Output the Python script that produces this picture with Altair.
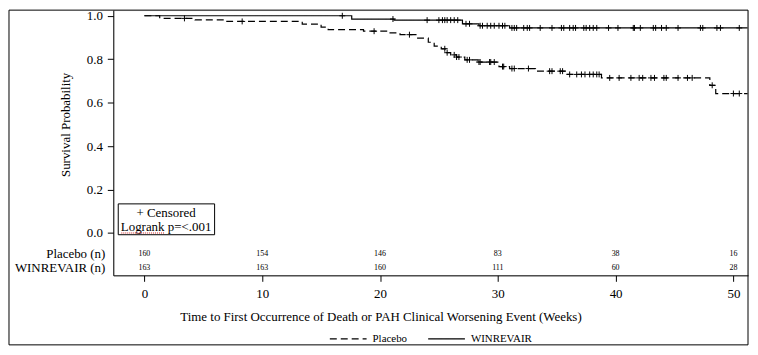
import altair as alt
import pandas as pd

FONT = "Times New Roman, Liberation Serif, serif"

groups = ["Placebo", "WINREVAIR"]

# Kaplan-Meier step points (weeks, survival probability)
placebo_t = [0, 1.3, 4.3, 7.0, 13.4, 15.0, 15.6, 18.6, 20.7, 21.7, 23.2, 24.1, 24.6, 25.2,
             25.6, 26.0, 26.5, 27.2, 28.3, 30.1, 31.0, 33.2, 35.8, 38.8, 48.0, 48.5, 51.2]
placebo_s = [1.0, 0.988, 0.981, 0.974, 0.962, 0.948, 0.936, 0.929, 0.921, 0.913, 0.897, 0.878, 0.86, 0.848,
             0.83, 0.82, 0.81, 0.797, 0.787, 0.766, 0.757, 0.745, 0.73, 0.714, 0.68, 0.642, 0.642]
win_t = [0, 17.6, 21.2, 27.0, 28.4, 31.0, 51.2]
win_s = [1.0, 0.985, 0.98, 0.963, 0.954, 0.944, 0.944]

# censoring times (weeks)
placebo_cens = [3.4, 8.3, 19.5, 22.5, 25.5, 25.7, 26.3, 26.5, 26.7, 27.4, 27.6, 28.4, 28.5, 29.3, 29.4,
                29.7, 30.4, 30.5, 31.2, 31.4, 32.6, 34.4, 34.6, 35.3, 35.5, 36.1, 36.7, 37.1, 37.4, 37.8,
                38.1, 38.4, 38.6, 39.5, 40.3, 41.3, 42.0, 42.3, 43.0, 43.3, 44.1, 44.3, 45.3, 46.1, 46.5,
                48.2, 50.0, 50.5]
win_cens = [16.8, 21.1, 24.0, 25.0, 25.3, 25.5, 25.7, 26.0, 26.3, 26.6, 27.3, 27.6, 28.5, 28.7, 29.1,
            29.4, 29.7, 30.1, 30.4, 30.6, 31.2, 31.4, 31.6, 32.2, 32.5, 32.7, 33.6, 34.6, 35.4, 35.6,
            36.1, 36.4, 36.6, 37.3, 37.5, 37.8, 38.1, 38.4, 39.4, 40.2, 41.5, 41.6, 42.1, 43.2, 43.4,
            43.9, 44.3, 45.3, 47.2, 47.4, 48.6, 48.9, 50.5]

# number at risk
risk_weeks = [0, 10, 20, 30, 40, 50]
placebo_risk = [160, 154, 146, 83, 38, 16]
win_risk = [163, 163, 160, 111, 60, 28]
risk_labels = ["Placebo (n)", "WINREVAIR (n)"]
risk_rows = [-0.095, -0.163]

x_ticks = [0, 10, 20, 30, 40, 50]
y_ticks = [0.0, 0.2, 0.4, 0.6, 0.8, 1.0]
X_DOMAIN = [-2.64, 51.24]
Y_DOMAIN = [-0.195, 1.026]

W, H = 639, 267


def step_value(ts, ss, t):
    v = ss[0]
    for a, b in zip(ts, ss):
        if a <= t:
            v = b
    return v


curves = pd.DataFrame(
    [{"t": a, "s": b, "group": "Placebo", "o": i} for i, (a, b) in enumerate(zip(placebo_t, placebo_s))]
    + [{"t": a, "s": b, "group": "WINREVAIR", "o": i} for i, (a, b) in enumerate(zip(win_t, win_s))]
)
cens = pd.DataFrame(
    [{"t": t, "s": step_value(placebo_t, placebo_s, t), "group": "Placebo"} for t in placebo_cens]
    + [{"t": t, "s": step_value(win_t, win_s, t), "group": "WINREVAIR"} for t in win_cens]
)
risk = pd.DataFrame(
    [{"t": w, "row": risk_rows[0], "n": str(n)} for w, n in zip(risk_weeks, placebo_risk)]
    + [{"t": w, "row": risk_rows[1], "n": str(n)} for w, n in zip(risk_weeks, win_risk)]
)
risk_lab = pd.DataFrame({"label": risk_labels, "row": risk_rows})
box = pd.DataFrame({"x1": [-2.22], "x2": [5.96], "y1": [0.134], "y2": [-0.008]})
box_text = pd.DataFrame({"t": [1.84, 1.84], "s": [0.094, 0.029], "txt": ["+ Censored", "Logrank p=<.001"]})
squiggle = pd.DataFrame({"x1": [-1.96], "x2": [1.75], "y": [0.0]})
one = pd.DataFrame({"a": [0]})

xs = alt.Scale(domain=X_DOMAIN, nice=False, zero=False)
ys = alt.Scale(domain=Y_DOMAIN, nice=False, zero=False)

x_axis = alt.Axis(values=x_ticks, title="Time to First Occurrence of Death or PAH Clinical Worsening Event (Weeks)",
                  tickSize=6, labelPadding=6, labelFontSize=13, labelFont=FONT, labelColor="black",
                  titleFont=FONT, titleFontSize=13, titleFontWeight="normal", titleColor="black",
                  titleX=269, titleY=41, titleBaseline="middle", titleAnchor="middle",
                  grid=False, domainColor="black", tickColor="black", format="d")
y_axis = alt.Axis(values=y_ticks, title="Survival Probability", tickSize=6, labelPadding=5,
                  labelFontSize=13, labelFont=FONT, labelColor="black", format=".1f",
                  titleFont=FONT, titleFontSize=13, titleFontWeight="normal", titleColor="black",
                  titleX=-48, titleY=115, titleBaseline="middle", titleAngle=270,
                  grid=False, domainColor="black", tickColor="black")

outer = alt.Chart(one).mark_rect(fill="transparent", stroke="black", strokeWidth=1).encode(
    x=alt.value(-105), x2=alt.value(W), y=alt.value(0), y2=alt.value(337)
)

lines = alt.Chart(curves).mark_line(interpolate="step-after", color="black", strokeWidth=1.2).encode(
    x=alt.X("t:Q", scale=xs, axis=x_axis),
    y=alt.Y("s:Q", scale=ys, axis=y_axis),
    order="o:Q",
    strokeDash=alt.StrokeDash(
        "group:N",
        scale=alt.Scale(domain=groups, range=[[7, 4], [1, 0]]),
        legend=alt.Legend(title=None, orient="none", legendX=217, legendY=324, direction="horizontal",
                          symbolType="stroke", symbolSize=1369, symbolStrokeWidth=1.2,
                          symbolStrokeColor="black", labelFont=FONT, labelFontSize=11,
                          labelColor="black", columnPadding=20, labelOffset=5, clipHeight=14,
                          padding=0),
    ),
)

cmarks = alt.Chart(cens).mark_point(shape="M-1,0L1,0M0,-1L0,1", size=36, filled=False,
                                    color="black", strokeWidth=1, opacity=1).encode(
    x=alt.X("t:Q", scale=xs), y=alt.Y("s:Q", scale=ys)
)

risk_text = alt.Chart(risk).mark_text(font=FONT, fontSize=8, color="black", baseline="middle").encode(
    x=alt.X("t:Q", scale=xs), y=alt.Y("row:Q", scale=ys), text="n:N"
)

risk_label_text = alt.Chart(risk_lab).mark_text(font=FONT, fontSize=13, color="black", align="right",
                                                baseline="middle").encode(
    x=alt.value(-8), y=alt.Y("row:Q", scale=ys), text="label:N"
)

box_rect = alt.Chart(box).mark_rect(fill="white", stroke="black", strokeWidth=1).encode(
    x=alt.X("x1:Q", scale=xs), x2="x2:Q", y=alt.Y("y1:Q", scale=ys), y2="y2:Q"
)
box_txt = alt.Chart(box_text).mark_text(font=FONT, fontSize=13, color="black", baseline="middle").encode(
    x=alt.X("t:Q", scale=xs), y=alt.Y("s:Q", scale=ys), text="txt:N"
)
squig = alt.Chart(squiggle).mark_rule(color="#d02020", strokeWidth=1, strokeDash=[1, 1]).encode(
    x=alt.X("x1:Q", scale=xs), x2="x2:Q", y=alt.Y("y:Q", scale=ys)
)

chart = alt.layer(outer, lines, cmarks, risk_text, risk_label_text, box_rect, box_txt, squig).properties(
    width=W, height=H, padding=0
).configure_view(stroke="black", strokeWidth=1).configure(background="white", font=FONT)

chart.save("out.html", embed_options={"renderer": "svg", "actions": False})
